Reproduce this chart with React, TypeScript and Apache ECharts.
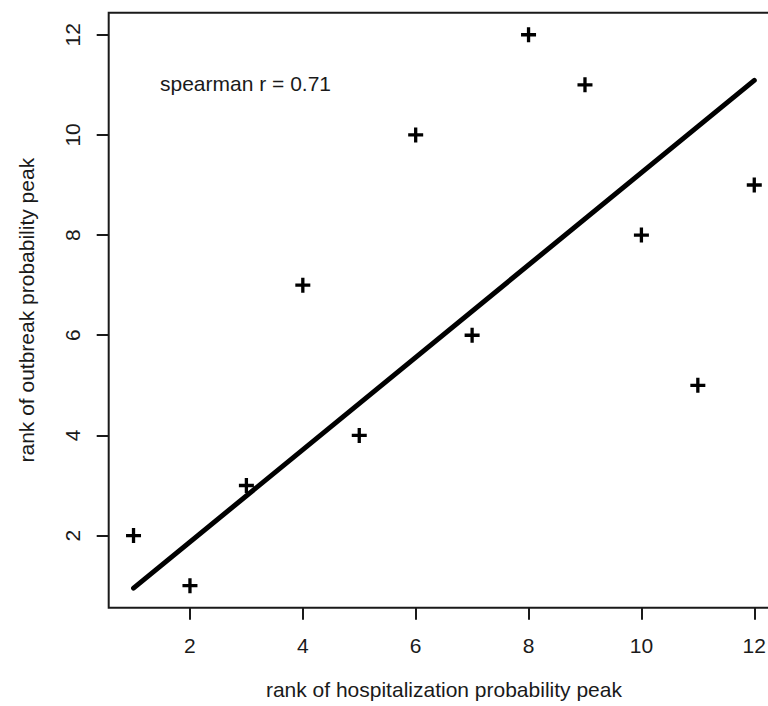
import React, { useEffect, useRef } from "react";
import * as echarts from "echarts";

const hospRank = [1, 2, 3, 4, 5, 6, 7, 8, 9, 10, 11, 12];
const outbreakRank = [2, 1, 3, 7, 4, 10, 6, 12, 11, 8, 5, 9];
const regLineX = [1, 12];
const regLineY = [0.95, 11.09];
const tickValues = [2, 4, 6, 8, 10, 12];
const annotation = "spearman r = 0.71";
const xTitle = "rank of hospitalization probability peak";
const yTitle = "rank of outbreak probability peak";

const FONT = "'Liberation Sans', Arial, sans-serif";
const INK = "#1a1a1a";
const PLUS =
  "path://M-1,-0.22H-0.22V-1H0.22V-0.22H1V0.22H0.22V1H-0.22V0.22H-1Z";

export default function App() {
  const ref = useRef<HTMLDivElement>(null);
  useEffect(() => {
    if (!ref.current) return;
    const chart = echarts.init(ref.current, undefined, { renderer: "svg" });
    const axisCommon = {
      type: "value" as const,
      min: 0.56,
      max: 12.44,
      splitLine: { show: false },
      axisLine: { show: false },
      axisTick: {
        show: true,
        customValues: tickValues,
        length: 12,
        lineStyle: { color: INK, width: 2 },
      },
    };
    chart.setOption({
      animation: false,
      backgroundColor: "#ffffff",
      textStyle: { fontFamily: FONT },
      grid: {
        left: 108.7,
        top: 12.7,
        width: 670.4,
        height: 595,
        show: true,
        borderColor: INK,
        borderWidth: 2,
        backgroundColor: "transparent",
      },
      xAxis: {
        ...axisCommon,
        axisLabel: {
          customValues: tickValues,
          margin: 27,
          fontSize: 21,
          color: INK,
          fontFamily: FONT,
        },
        name: xTitle,
        nameLocation: "middle",
        nameGap: 71,
        nameTextStyle: { fontSize: 21, color: INK, fontFamily: FONT },
      },
      yAxis: {
        ...axisCommon,
        axisLabel: {
          customValues: tickValues,
          rotate: 90,
          margin: 26,
          fontSize: 21,
          color: INK,
          fontFamily: FONT,
        },
        name: yTitle,
        nameLocation: "middle",
        nameGap: 72,
        nameRotate: 90,
        nameTextStyle: { fontSize: 21, color: INK, fontFamily: FONT },
      },
      graphic: [
        {
          type: "text",
          left: 160,
          top: 73,
          style: {
            text: annotation,
            fontSize: 21,
            fill: INK,
            fontFamily: FONT,
          },
        },
      ],
      series: [
        {
          type: "line",
          data: regLineX.map((x, i) => [x, regLineY[i]]),
          showSymbol: false,
          symbol: "none",
          lineStyle: { color: "#000", width: 5, cap: "round" },
          silent: true,
          z: 2,
        },
        {
          type: "scatter",
          data: hospRank.map((x, i) => [x, outbreakRank[i]]),
          symbol: PLUS,
          symbolSize: 15,
          itemStyle: { color: "#000", opacity: 1 },
          z: 3,
        },
      ],
    });
    return () => chart.dispose();
  }, []);
  return (
    <div
      ref={ref}
      style={{ position: "fixed", left: 0, top: 0, width: 780, height: 706 }}
    />
  );
}
